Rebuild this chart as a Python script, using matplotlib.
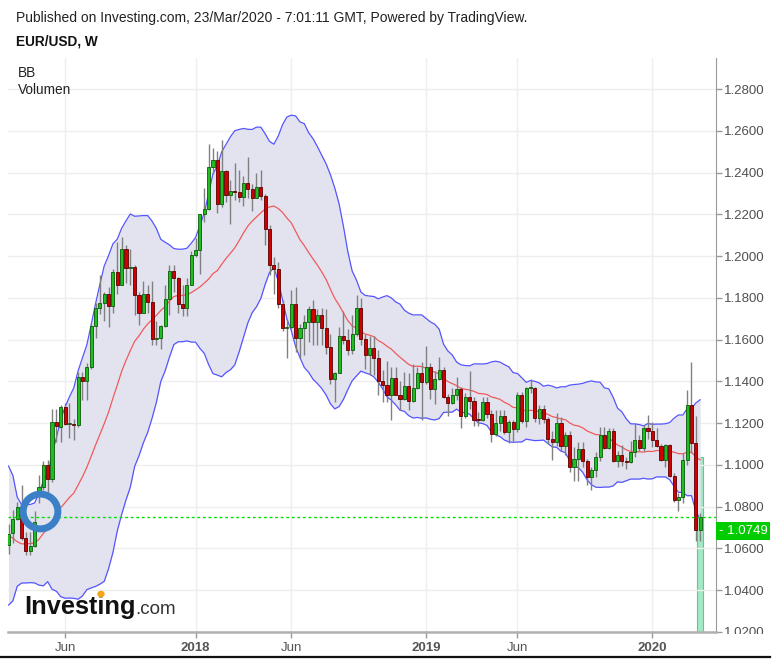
import numpy as np
import pandas as pd
import matplotlib
matplotlib.use('Agg')
import matplotlib.pyplot as plt
from matplotlib.patches import Rectangle, Circle
from matplotlib.lines import Line2D

plt.rcParams['font.family'] = ['Liberation Sans', 'DejaVu Sans']

W, H = 777, 662

# 19 weekly closes before the first visible bar, needed for the 20-week BB
warmup_close = [1.0985, 1.1140, 1.0855, 1.0585, 1.0590, 1.0665, 1.0540, 1.0450,
                1.0455, 1.0520, 1.0530, 1.0640, 1.0700, 1.0695, 1.0780, 1.0640,
                1.0615, 1.0560, 1.0620]

first_week = '2017-03-06'

opens = [
    1.0615, 1.0672, 1.0740, 1.0798, 1.0652, 1.0590, 1.0612, 1.0865, 1.0895, 1.0998,
    1.0932, 1.1205, 1.1180, 1.1278, 1.1196, 1.1198, 1.1192, 1.1420, 1.1400, 1.1470,
    1.1665, 1.1750, 1.1775, 1.1820, 1.1760, 1.1925, 1.1860, 1.2035, 1.1945, 1.1950,
    1.1815, 1.1730, 1.1820, 1.1780, 1.1605, 1.1610, 1.1665, 1.1795, 1.1930, 1.1895,
    1.1770, 1.1750, 1.1860, 1.2005, 1.2030, 1.2200, 1.2225, 1.2425, 1.2460, 1.2250,
    1.2410, 1.2295, 1.2310, 1.2305, 1.2285, 1.2350, 1.2320, 1.2280, 1.2330, 1.2290,
    1.2130, 1.1960, 1.1940, 1.1770, 1.1655, 1.1660, 1.1770, 1.1610, 1.1655, 1.1685,
    1.1745, 1.1685, 1.1720, 1.1655, 1.1565, 1.1410, 1.1440, 1.1620, 1.1600, 1.1550,
    1.1625, 1.1750, 1.1605, 1.1525, 1.1560, 1.1510, 1.1400, 1.1385, 1.1335, 1.1415,
    1.1335, 1.1315, 1.1380, 1.1305, 1.1370, 1.1440, 1.1395, 1.1470, 1.1365, 1.1410,
    1.1455, 1.1325, 1.1295, 1.1335, 1.1365, 1.1235, 1.1325, 1.1305, 1.1218, 1.1215,
    1.1300, 1.1245, 1.1150, 1.1200, 1.1235, 1.1160, 1.1205, 1.1170, 1.1335, 1.1210,
    1.1368, 1.1370, 1.1225, 1.1270, 1.1220, 1.1125, 1.1110, 1.1200, 1.1090, 1.1145,
    1.0990, 1.1030, 1.1075, 1.1020, 1.0940, 1.0975, 1.1040, 1.1145, 1.1080, 1.1165,
    1.1020, 1.1050, 1.1020, 1.1015, 1.1060, 1.1120, 1.1080, 1.1175, 1.1165, 1.1120,
    1.1090, 1.1025, 1.1095, 1.0945, 1.0830, 1.0845, 1.1025, 1.1285, 1.1105, 1.0690]

highs = [
    1.0715, 1.0785, 1.0825, 1.0906, 1.0680, 1.0680, 1.0778, 1.0950, 1.1020, 1.1023,
    1.1268, 1.1268, 1.1285, 1.1296, 1.1295, 1.1220, 1.1445, 1.1445, 1.1490, 1.1680,
    1.1775, 1.1910, 1.1830, 1.1850, 1.1940, 1.2070, 1.2092, 1.2055, 1.2035, 1.1960,
    1.1830, 1.1880, 1.1860, 1.1880, 1.1690, 1.1670, 1.1860, 1.1960, 1.1960, 1.1900,
    1.1860, 1.1895, 1.2025, 1.2085, 1.2200, 1.2325, 1.2537, 1.2520, 1.2505, 1.2555,
    1.2415, 1.2365, 1.2445, 1.2413, 1.2385, 1.2475, 1.2345, 1.2396, 1.2414, 1.2300,
    1.2150, 1.1995, 1.1970, 1.1790, 1.1700, 1.1840, 1.1850, 1.1675, 1.1720, 1.1760,
    1.1790, 1.1745, 1.1750, 1.1745, 1.1625, 1.1445, 1.1660, 1.1735, 1.1650, 1.1720,
    1.1815, 1.1800, 1.1625, 1.1620, 1.1620, 1.1550, 1.1455, 1.1500, 1.1470, 1.1470,
    1.1400, 1.1445, 1.1440, 1.1485, 1.1470, 1.1495, 1.1570, 1.1490, 1.1450, 1.1515,
    1.1470, 1.1340, 1.1370, 1.1420, 1.1375, 1.1345, 1.1450, 1.1325, 1.1255, 1.1325,
    1.1325, 1.1265, 1.1265, 1.1265, 1.1265, 1.1215, 1.1215, 1.1350, 1.1350, 1.1375,
    1.1410, 1.1375, 1.1285, 1.1285, 1.1230, 1.1165, 1.1250, 1.1230, 1.1160, 1.1165,
    1.1085, 1.1110, 1.1110, 1.1030, 1.0990, 1.1060, 1.1180, 1.1180, 1.1175, 1.1175,
    1.1065, 1.1095, 1.1040, 1.1115, 1.1200, 1.1145, 1.1190, 1.1240, 1.1205, 1.1175,
    1.1100, 1.1100, 1.1100, 1.0960, 1.0865, 1.1055, 1.1357, 1.1495, 1.1235, 1.0770]

lows = [
    1.0575, 1.0625, 1.0735, 1.0640, 1.0570, 1.0570, 1.0605, 1.0820, 1.0880, 1.0840,
    1.0920, 1.1110, 1.1110, 1.1190, 1.1130, 1.1120, 1.1180, 1.1310, 1.1310, 1.1460,
    1.1610, 1.1725, 1.1690, 1.1660, 1.1730, 1.1820, 1.1860, 1.1870, 1.1860, 1.1720,
    1.1670, 1.1730, 1.1730, 1.1575, 1.1575, 1.1555, 1.1660, 1.1720, 1.1830, 1.1730,
    1.1715, 1.1715, 1.1860, 1.1995, 1.1915, 1.2165, 1.2220, 1.2395, 1.2205, 1.2235,
    1.2260, 1.2155, 1.2270, 1.2260, 1.2240, 1.2280, 1.2215, 1.2280, 1.2270, 1.2055,
    1.1910, 1.1820, 1.1750, 1.1640, 1.1510, 1.1650, 1.1540, 1.1510, 1.1525, 1.1590,
    1.1575, 1.1575, 1.1575, 1.1530, 1.1390, 1.1300, 1.1440, 1.1580, 1.1525, 1.1530,
    1.1620, 1.1575, 1.1460, 1.1430, 1.1430, 1.1335, 1.1300, 1.1300, 1.1215, 1.1335,
    1.1265, 1.1310, 1.1265, 1.1300, 1.1365, 1.1215, 1.1390, 1.1315, 1.1290, 1.1405,
    1.1320, 1.1235, 1.1290, 1.1310, 1.1175, 1.1225, 1.1270, 1.1185, 1.1185, 1.1210,
    1.1225, 1.1110, 1.1140, 1.1165, 1.1150, 1.1105, 1.1115, 1.1160, 1.1200, 1.1180,
    1.1345, 1.1205, 1.1195, 1.1200, 1.1100, 1.1025, 1.1090, 1.1065, 1.1050, 1.0965,
    1.0925, 1.0925, 1.0990, 1.0905, 1.0880, 1.0940, 1.1020, 1.1075, 1.1075, 1.1015,
    1.0990, 1.0995, 1.0980, 1.1010, 1.1040, 1.1065, 1.1065, 1.1125, 1.1085, 1.1085,
    1.1020, 1.0990, 1.0940, 1.0825, 1.0778, 1.0820, 1.1000, 1.1055, 1.0635, 1.0635]

closes = [
    1.0671, 1.0740, 1.0798, 1.0652, 1.0590, 1.0610, 1.0725, 1.0895, 1.0998, 1.0932,
    1.1205, 1.1185, 1.1278, 1.1196, 1.1198, 1.1192, 1.1420, 1.1400, 1.1470, 1.1665,
    1.1750, 1.1775, 1.1820, 1.1760, 1.1925, 1.1860, 1.2035, 1.1945, 1.1950, 1.1815,
    1.1730, 1.1820, 1.1780, 1.1605, 1.1610, 1.1665, 1.1795, 1.1930, 1.1895, 1.1770,
    1.1750, 1.1860, 1.2005, 1.2030, 1.2200, 1.2225, 1.2425, 1.2460, 1.2250, 1.2410,
    1.2295, 1.2310, 1.2305, 1.2285, 1.2350, 1.2320, 1.2280, 1.2330, 1.2290, 1.2130,
    1.1960, 1.1940, 1.1770, 1.1655, 1.1660, 1.1770, 1.1610, 1.1655, 1.1685, 1.1745,
    1.1685, 1.1720, 1.1655, 1.1565, 1.1410, 1.1440, 1.1620, 1.1600, 1.1550, 1.1625,
    1.1750, 1.1605, 1.1525, 1.1560, 1.1510, 1.1400, 1.1385, 1.1335, 1.1415, 1.1335,
    1.1315, 1.1380, 1.1305, 1.1370, 1.1440, 1.1395, 1.1470, 1.1365, 1.1410, 1.1455,
    1.1325, 1.1295, 1.1335, 1.1365, 1.1235, 1.1325, 1.1305, 1.1215, 1.1214, 1.1300,
    1.1245, 1.1150, 1.1200, 1.1235, 1.1160, 1.1205, 1.1170, 1.1335, 1.1210, 1.1370,
    1.1372, 1.1225, 1.1270, 1.1220, 1.1125, 1.1110, 1.1200, 1.1090, 1.1145, 1.0990,
    1.1030, 1.1075, 1.1020, 1.0940, 1.0975, 1.1040, 1.1145, 1.1080, 1.1165, 1.1020,
    1.1050, 1.1020, 1.1015, 1.1060, 1.1120, 1.1080, 1.1175, 1.1165, 1.1120, 1.1092,
    1.1025, 1.1095, 1.0945, 1.0830, 1.0845, 1.1025, 1.1285, 1.1105, 1.0690, 1.0749]

last_price = 1.0749

# volume is only reported on the last weekly bar
volume_bar = [159]
volume = [1.0]

# the hand-drawn ring on the chart
ring_week, ring_price = 7.25, 1.0779

dates = pd.date_range(first_week, periods=len(closes), freq='W-MON')
x = np.arange(len(closes))
o = np.array(opens)
h = np.array(highs)
l = np.array(lows)
c = np.array(closes)

# Bollinger bands 20, 2
allc = pd.Series(warmup_close + closes)
mid = allc.rolling(20).mean().values[len(warmup_close):]
sd = allc.rolling(20).std(ddof=0).values[len(warmup_close):]
upper = mid + 2 * sd
lower = mid - 2 * sd

fig = plt.figure(figsize=(W / 100, H / 100), dpi=100)
ax = fig.add_axes([8 / W, 30 / H, 708 / W, 574 / H])
axv = ax.twinx()
ax.set_zorder(axv.get_zorder() + 1)
ax.patch.set_visible(False)

ax.set_xlim(-0.12, 162.64)
ax.set_ylim(1.02, 1.02 + 574 / 2088)

# grid / ticks
yt = np.arange(1.02, 1.2801, 0.02)
ax.set_yticks(yt)
ax.set_yticklabels(['%.4f' % v for v in yt])
tick_idx = [i for i in range(1, len(dates))
            if dates[i].month != dates[i - 1].month and dates[i].month in (1, 6)]
ax.set_xticks(tick_idx)
ax.set_xticklabels(['Jun' if dates[i].month == 6 else str(dates[i].year) for i in tick_idx])
for i, lab in zip(tick_idx, ax.get_xticklabels()):
    if dates[i].month == 1:
        lab.set_fontweight('bold')
        lab.set_color('#444444')
ax.grid(True, color='#eeeeee', lw=1, zorder=0)
ax.set_axisbelow(True)

# bands
ax.fill_between(x, lower, upper, color='#e3e3f0', lw=0, zorder=1)
ax.plot(x, upper, color='#5555ff', lw=0.9, zorder=2)
ax.plot(x, lower, color='#5555ff', lw=0.9, zorder=2)
ax.plot(x, mid, color='#f05a5a', lw=0.9, zorder=2)

# volume
axv.bar(volume_bar, volume, width=1.25, color='#a3e9c6', edgecolor='#55cf8f', lw=0.8)
axv.set_ylim(0, max(volume) / 0.305)
axv.yaxis.set_visible(False)
for s in axv.spines.values():
    s.set_visible(False)

# candles
up = c >= o
body_lo = np.minimum(o, c)
body_h = np.maximum(np.abs(c - o), 0.0004)
ax.vlines(x, l, h, color='#808080', lw=1, zorder=3)
ax.bar(x[up], body_h[up], bottom=body_lo[up], width=0.72, color='#1fbd1f',
       edgecolor='#0b5a0b', lw=0.6, zorder=4)
ax.bar(x[~up], body_h[~up], bottom=body_lo[~up], width=0.72, color='#d00000',
       edgecolor='#5a0000', lw=0.6, zorder=4)

# last price line
ax.axhline(last_price, color='#00e000', lw=1, ls=(0, (2, 2)), zorder=5)

# ring
ax.plot([ring_week], [ring_price], marker='o', ms=25, mfc='none',
        mec='#3b7fc6', mew=5, zorder=6)

# axes styling
ax.yaxis.tick_right()
for s in ['left', 'top']:
    ax.spines[s].set_visible(False)
ax.spines['right'].set_color('#9a9a9a')
ax.spines['bottom'].set_color('#b0b0b0')
ax.spines['bottom'].set_linewidth(1.8)
ax.tick_params(axis='y', direction='out', length=4, width=1, color='#9a9a9a',
               labelsize=9.5, labelcolor='#505050', pad=2)
ax.tick_params(axis='x', direction='out', length=4, width=1, color='#9a9a9a',
               labelsize=9.5, labelcolor='#555555', pad=3)

# last price label on the price scale
fig.add_artist(Rectangle((716 / W, 1 - 540 / H), 54 / W, 18 / H, color='#00cc00',
                         lw=0, zorder=10))
fig.text(719 / W, 1 - 531 / H, '- %.4f' % last_price, color='white', fontsize=9.5,
         va='center', ha='left', zorder=11)

# hide lower half of the bottom price label, like the reference
fig.add_artist(Rectangle((717 / W, 1 - 652 / H), 60 / W, 18 / H, color='white',
                         lw=0, zorder=9))

# header texts
fig.text(16 / W, 1 - 18 / H,
         'Published on Investing.com, 23/Mar/2020 - 7:01:11 GMT, Powered by TradingView.',
         fontsize=10, color='#222222', va='center')
fig.text(16 / W, 1 - 41 / H, 'EUR/USD, W', fontsize=9.8, fontweight='bold',
         color='#111111', va='center')
fig.text(18 / W, 1 - 73 / H, 'BB', fontsize=9.8, color='#222222', va='center')
fig.text(18 / W, 1 - 90 / H, 'Volumen', fontsize=9.8, color='#222222', va='center')

# logo
fig.text(24 / W, 1 - 614 / H, 'Investing', fontsize=18.3, fontweight='bold',
         color='#111111', va='baseline', zorder=12)
fig.text(135 / W, 1 - 614 / H, '.com', fontsize=13.5, color='#333333',
         va='baseline', zorder=12)
fig.add_artist(Circle((101 / W, 1 - 594 / H), 3 / W, color='#f5a31a', zorder=13,
                      transform=fig.transFigure))

# bottom border
fig.add_artist(Line2D([0, 770 / W], [1 - 656.5 / H] * 2, color='#111111', lw=1.6))

fig.savefig('out.png', dpi=100)
